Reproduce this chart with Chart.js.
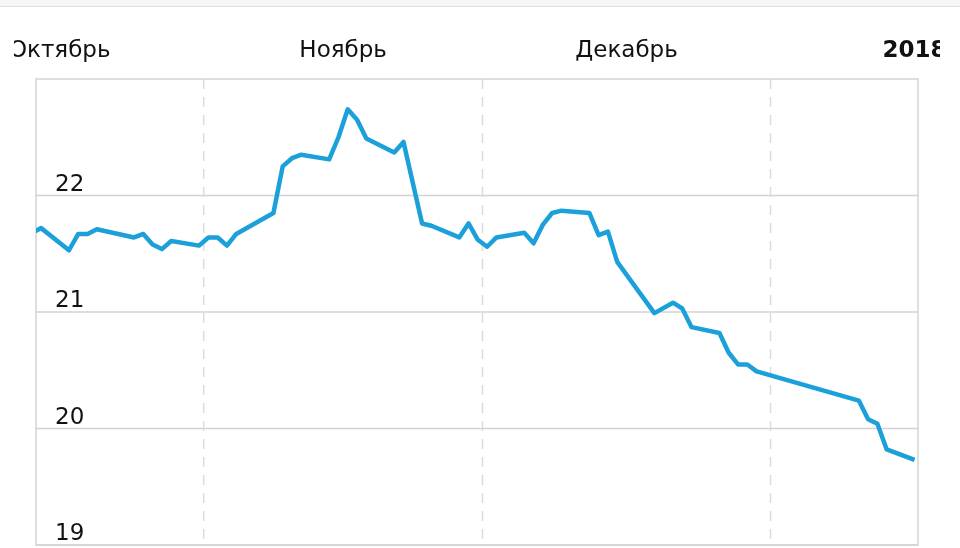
<!DOCTYPE html>
<html lang="ru">
<head>
<meta charset="utf-8">
<title>Курс</title>
<script src="https://cdn.jsdelivr.net/npm/chart.js@4/dist/chart.umd.min.js"></script>
<style>
  html, body { margin: 0; padding: 0; background: #fff; }
  canvas { display: block; }
</style>
</head>
<body>
<canvas id="chart" width="960" height="548"></canvas>
<script>
// Дни от 1 октября (1 ноября = 31, 1 декабря = 61, 1 января = 92), точка в середине дня
const days = [
  12.5, 13.5, 16.5, 17.5, 18.5, 19.5, 23.5, 24.5, 25.5, 26.5, 27.5,
  30.5, 31.5, 32.5, 33.5, 34.5, 38.5, 39.5, 40.5, 41.5, 44.5, 45.5,
  46.5, 47.5, 48.5, 51.5, 52.5, 54.5, 55.5, 58.5, 59.5, 60.5, 61.5,
  62.5, 65.5, 66.5, 67.5, 68.5, 69.5, 72.5, 73.5, 74.5, 75.5, 79.5,
  81.5, 82.5, 83.5, 86.5, 87.5, 88.5, 89.5, 90.5, 101.5, 102.5, 103.5,
  104.5, 107.5
];
const prices = [
  21.68, 21.72, 21.53, 21.67, 21.67, 21.71, 21.64, 21.67, 21.58, 21.54, 21.61,
  21.57, 21.64, 21.64, 21.57, 21.67, 21.85, 22.25, 22.32, 22.35, 22.31, 22.50,
  22.74, 22.65, 22.49, 22.37, 22.46, 21.76, 21.74, 21.64, 21.76, 21.62, 21.56,
  21.64, 21.68, 21.59, 21.75, 21.85, 21.87, 21.85, 21.66, 21.69, 21.43, 20.99,
  21.08, 21.03, 20.87, 20.82, 20.65, 20.55, 20.55, 20.49, 20.24, 20.08, 20.04,
  19.82, 19.73
];

// Границы месяцев и подписи над графиком
const monthStarts = [0, 31, 61, 92, 123];
const monthNames = ['Октябрь', 'Ноябрь', 'Декабрь', '2018'];
const yLabels = [19, 20, 21, 22];

const FONT = '"DejaVu Sans", Verdana, sans-serif';

// ===== сетка, рамка и подписи =====
const framePlugin = {
  id: 'frameGrid',
  beforeDraw(chart) {
    const { ctx, chartArea, scales } = chart;
    if (!chartArea) return;
    const { left, right, top, bottom } = chartArea;
    const x = scales.x, y = scales.y;
    const line = (x1, y1, x2, y2) => {
      ctx.beginPath(); ctx.moveTo(x1, y1); ctx.lineTo(x2, y2); ctx.stroke();
    };

    ctx.save();
    // серая полоска сверху
    ctx.fillStyle = '#f6f6f6';
    ctx.fillRect(0, 0, chart.width, 6);
    ctx.strokeStyle = '#dedede';
    ctx.lineWidth = 1;
    line(0, 6.5, chart.width, 6.5);

    // горизонтальная сетка
    ctx.strokeStyle = '#d3d3d3';
    ctx.lineWidth = 1.5;
    yLabels.forEach(v => {
      const py = y.getPixelForValue(v);
      line(left, py, right, py);
    });

    // пунктир на начале месяца
    ctx.setLineDash([10, 8]);
    ctx.strokeStyle = '#dcdcdc';
    monthStarts.forEach(d => {
      if (d <= x.min || d >= x.max) return;
      const px = x.getPixelForValue(d);
      line(px, top, px, bottom);
    });
    ctx.setLineDash([]);

    // рамка
    ctx.strokeStyle = '#d3d3d3';
    ctx.strokeRect(left, top, right - left, bottom - top);

    // подписи оси Y внутри области
    ctx.fillStyle = '#111';
    ctx.font = '23px ' + FONT;
    ctx.textAlign = 'left';
    ctx.textBaseline = 'alphabetic';
    yLabels.forEach(v => ctx.fillText(String(v), left + 19, y.getPixelForValue(v) - 5));

    // месяцы сверху, по центру месяца (края обрезаны)
    ctx.beginPath();
    ctx.rect(14, 0, 926, top);
    ctx.clip();
    ctx.textAlign = 'center';
    monthNames.forEach((name, i) => {
      const mid = (monthStarts[i] + monthStarts[i + 1]) / 2;
      ctx.font = (name === '2018' ? 'bold ' : '') + '23px ' + FONT;
      ctx.fillText(name, x.getPixelForValue(mid), 57);
    });
    ctx.restore();
  },
};

new Chart(document.getElementById('chart'), {
  type: 'line',
  plugins: [framePlugin],
  data: {
    datasets: [{
      data: days.map((d, i) => ({ x: d, y: prices[i] })),
      borderColor: '#1ca0da',
      borderWidth: 4.5,
      borderJoinStyle: 'round',
      pointRadius: 0,
      tension: 0,
      fill: false,
      clip: 0,
    }],
  },
  options: {
    responsive: false,
    animation: false,
    devicePixelRatio: 1,
    layout: { padding: { left: 36, top: 79, right: 42, bottom: 3 } },
    plugins: { legend: { display: false }, tooltip: { enabled: false } },
    scales: {
      x: { type: 'linear', min: 12.95, max: 107.87, display: false },
      y: { min: 19, max: 23, display: false },
    },
  },
});
</script>
</body>
</html>
